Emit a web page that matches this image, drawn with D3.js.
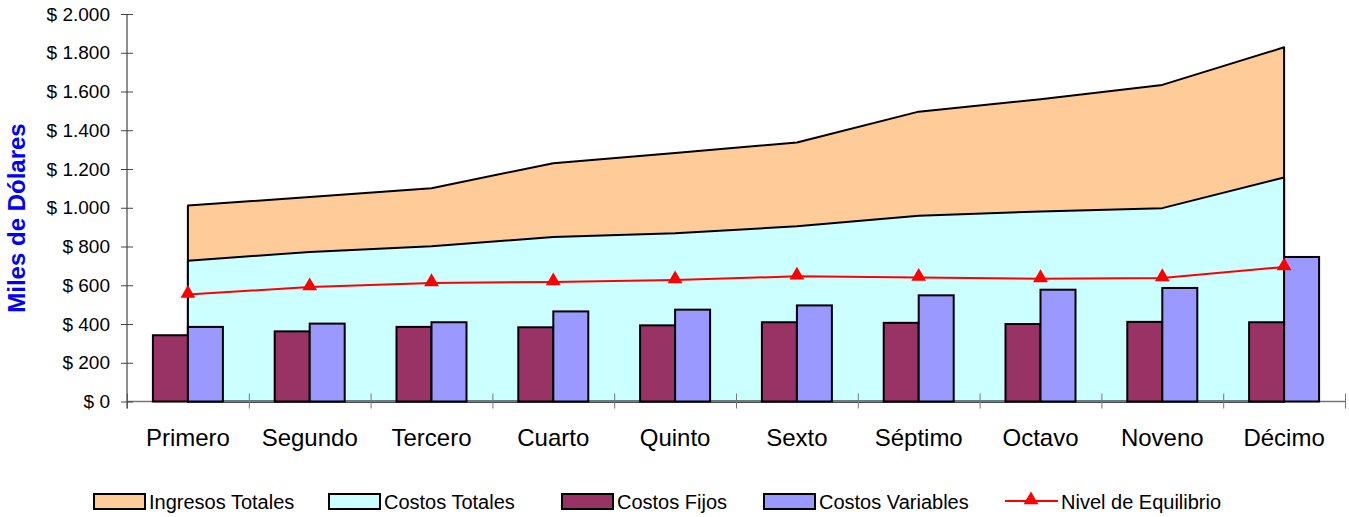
<!DOCTYPE html>
<head>
  <meta charset="utf-8">
  <script src="https://d3js.org/d3.v7.min.js"></script>
  <style>
    body { margin:0; background:#fff; }
    svg { display:block; font-family:"Liberation Sans", Arial, sans-serif; }
  </style>
</head>
<body>
  <svg width="1349" height="517"></svg>
  <script>
    // categorias y series (miles de dolares)
    var categorias = ['Primero','Segundo','Tercero','Cuarto','Quinto','Sexto','Séptimo','Octavo','Noveno','Décimo'];
    var ingresosTotales = [1012, 1055, 1101, 1230, 1282, 1337, 1496, 1560, 1634, 1828];
    var costosTotales = [727, 772, 801, 849, 868, 904, 959, 981, 998, 1156];
    var costosFijos = [342, 362, 385, 383, 393, 409, 406, 400, 411, 409];
    var costosVariables = [385, 402, 409, 465, 474, 496, 548, 577, 586, 746];
    var nivelEquilibrio = [552, 591, 612, 617, 627, 646, 640, 633, 638, 694];
    var yTicks = [0, 200, 400, 600, 800, 1000, 1200, 1400, 1600, 1800, 2000];

    var margin = {top: 14, left: 127, right: 4, bottom: 115};
    var width = 1349, height = 517;
    var svg = d3.select('svg');

    var x = d3.scaleBand()
      .domain(categorias)
      .range([margin.left, width - margin.right]);
    var bw = x.bandwidth();
    var cx = function(i) { return x(categorias[i]) + bw / 2; };

    var y = d3.scaleLinear()
      .domain([0, 2000])
      .range([height - margin.bottom - 0.5, margin.top]);

    // subgrupo de barras dentro de cada categoria
    var sub = d3.scaleBand()
      .domain(['fijos', 'variables'])
      .range([bw / 2 - 35, bw / 2 + 35]);

    // AREAS
    var area = function(vals) {
      return d3.area()
        .x(function(d, i) { return cx(i); })
        .y0(y(0))
        .y1(function(d) { return y(d); })(vals);
    };
    svg.append('path')
      .attr('d', area(ingresosTotales) + 'Z')
      .attr('fill', '#FFCC99')
      .attr('stroke', '#000')
      .attr('stroke-width', 2)
      .attr('stroke-linejoin', 'round');
    svg.append('path')
      .attr('d', area(costosTotales) + 'Z')
      .attr('fill', '#CCFFFF')
      .attr('stroke', '#000')
      .attr('stroke-width', 2)
      .attr('stroke-linejoin', 'round');

    // EJES
    // linea base gris
    svg.append('line')
      .attr('x1', margin.left).attr('x2', width - margin.right)
      .attr('y1', y(0)).attr('y2', y(0))
      .attr('stroke', '#777').attr('stroke-width', 1.5);

    var xTickScale = d3.scaleLinear().domain([0, 10]).range([margin.left, width - margin.right]);
    var xTicks = svg.append('g')
      .attr('transform', 'translate(0,' + (y(0) - 8) + ')')
      .call(d3.axisBottom(xTickScale).tickValues(d3.range(11)).tickFormat('').tickSize(15));
    xTicks.select('.domain').remove();
    xTicks.selectAll('line').attr('stroke', '#777');

    svg.append('g').selectAll('text')
      .data(categorias)
      .enter().append('text')
      .attr('x', function(d, i) { return cx(i); })
      .attr('y', 446)
      .attr('text-anchor', 'middle')
      .attr('font-size', 24)
      .attr('fill', '#000')
      .text(function(d) { return d; });

    var yAxis = svg.append('g')
      .attr('transform', 'translate(' + (margin.left + 6) + ',0)')
      .call(d3.axisLeft(y)
        .tickValues(yTicks)
        .tickSize(12)
        .tickPadding(11)
        .tickFormat(function(d) { return '$ ' + d3.format(',')(d).replace(/,/g, '.'); }));
    yAxis.select('.domain').remove();
    yAxis.selectAll('line').attr('stroke', '#444');
    yAxis.selectAll('text').attr('font-size', 19).attr('fill', '#000')
      .attr('font-family', '"Liberation Sans", Arial, sans-serif');
    svg.append('line')
      .attr('x1', margin.left).attr('x2', margin.left)
      .attr('y1', y(2000)).attr('y2', y(0) + 7)
      .attr('stroke', '#444').attr('stroke-width', 1.2);

    // BARRAS
    var barras = svg.append('g');
    [['fijos', costosFijos, '#993366'], ['variables', costosVariables, '#9999FF']].forEach(function(s) {
      barras.selectAll(null)
        .data(s[1])
        .enter().append('rect')
        .attr('x', function(d, i) { return x(categorias[i]) + sub(s[0]); })
        .attr('width', sub.bandwidth())
        .attr('y', function(d) { return y(d); })
        .attr('height', function(d) { return y(0) - y(d); })
        .attr('fill', s[2])
        .attr('stroke', '#000')
        .attr('stroke-width', 2);
    });

    // LINEA DE EQUILIBRIO
    svg.append('path')
      .datum(nivelEquilibrio)
      .attr('d', d3.line().x(function(d, i) { return cx(i); }).y(function(d) { return y(d); }))
      .attr('fill', 'none')
      .attr('stroke', '#FF0000')
      .attr('stroke-width', 2);
    var tri = d3.symbol().type(d3.symbolTriangle).size(95);
    svg.append('g').selectAll('path')
      .data(nivelEquilibrio)
      .enter().append('path')
      .attr('d', tri)
      .attr('transform', function(d, i) { return 'translate(' + cx(i) + ',' + (y(d) - 1) + ')'; })
      .attr('fill', '#FF0000');

    // TITULO EJE Y
    svg.append('text')
      .attr('transform', 'translate(25,218) rotate(-90)')
      .attr('text-anchor', 'middle')
      .attr('font-size', 24)
      .attr('font-weight', 'bold')
      .attr('fill', '#0000FF')
      .text('Miles de Dólares');

    // LEYENDA
    var leyenda = [
      {name: 'Ingresos Totales', x: 93, fill: '#FFCC99'},
      {name: 'Costos Totales', x: 328, fill: '#CCFFFF'},
      {name: 'Costos Fijos', x: 561, fill: '#993366'},
      {name: 'Costos Variables', x: 763, fill: '#9999FF'},
      {name: 'Nivel de Equilibrio', x: 1005, line: true}
    ];
    var lg = svg.append('g').selectAll('g')
      .data(leyenda)
      .enter().append('g')
      .attr('transform', function(d) { return 'translate(' + d.x + ',501)'; });
    lg.filter(function(d) { return !d.line; }).append('rect')
      .attr('x', 1).attr('y', -7).attr('width', 51).attr('height', 15)
      .attr('fill', function(d) { return d.fill; })
      .attr('stroke', '#000').attr('stroke-width', 2);
    var ll = lg.filter(function(d) { return d.line; });
    ll.append('line').attr('x1', 0).attr('x2', 53).attr('y1', 0).attr('y2', 0)
      .attr('stroke', '#FF0000').attr('stroke-width', 2);
    ll.append('path').attr('d', tri).attr('transform', 'translate(26,-1)').attr('fill', '#FF0000');
    lg.append('text')
      .attr('x', 56).attr('y', 7.5)
      .attr('font-size', 20)
      .attr('fill', '#000')
      .text(function(d) { return d.name; });
  </script>
</body>
